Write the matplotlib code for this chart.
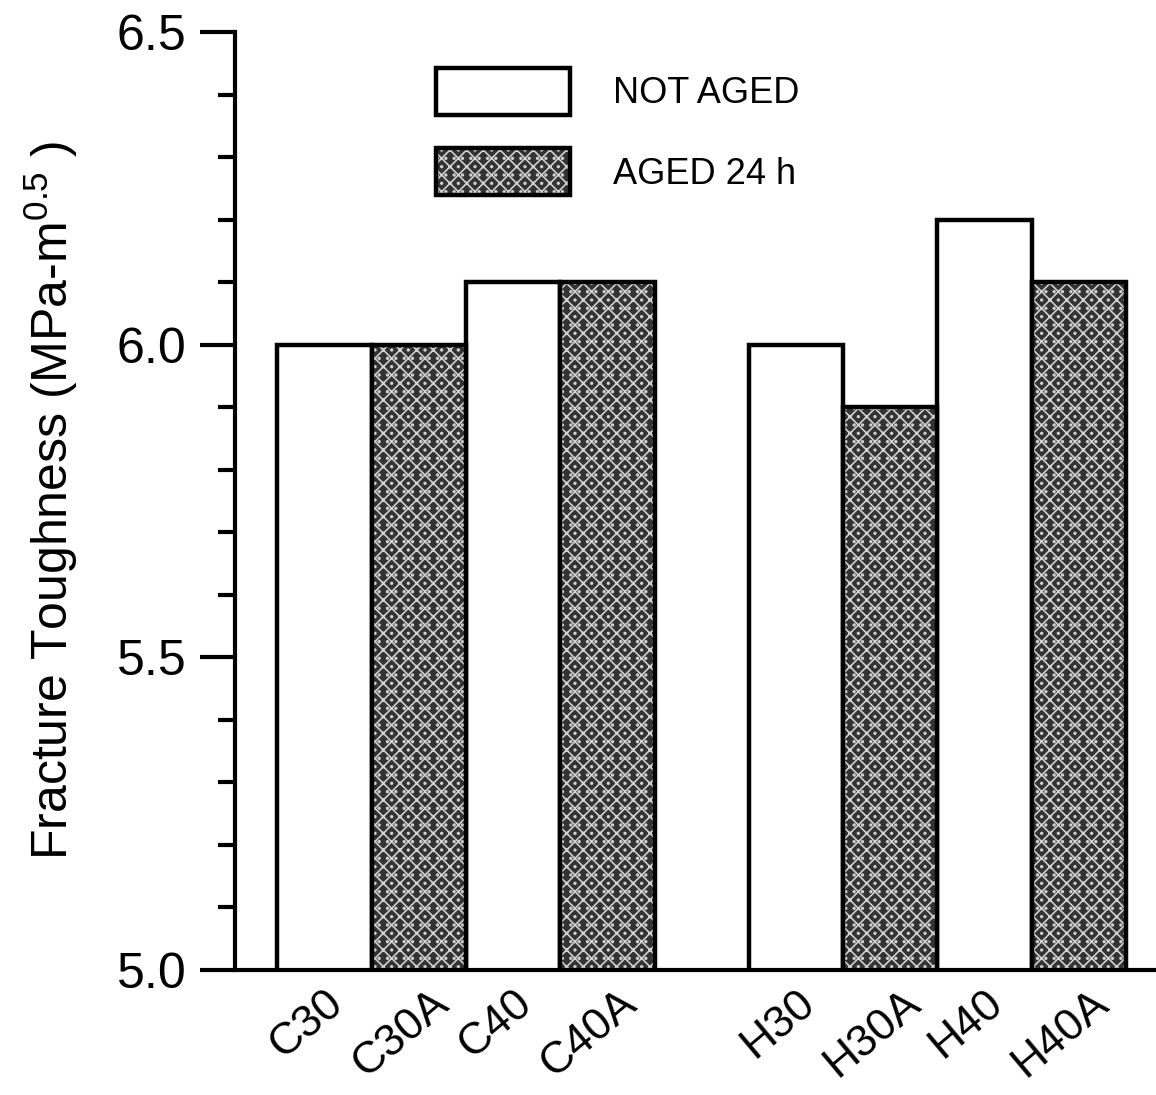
import matplotlib
matplotlib.use("Agg")
import matplotlib.pyplot as plt
from matplotlib.ticker import MultipleLocator
from matplotlib.transforms import ScaledTranslation

plt.rcParams["font.family"] = ["Liberation Sans", "DejaVu Sans"]
plt.rcParams["mathtext.fontset"] = "custom"
plt.rcParams["mathtext.rm"] = "Liberation Sans"
plt.rcParams["mathtext.it"] = "Liberation Sans:italic"
plt.rcParams["hatch.linewidth"] = 1.2

# sample names and slot positions (empty slot 4 separates C and H groups)
labels = ["C30", "C30A", "C40", "C40A", "H30", "H30A", "H40", "H40A"]
positions = [0, 1, 2, 3, 5, 6, 7, 8]

not_aged_pos = [0, 2, 5, 7]
not_aged = [6.0, 6.1, 6.0, 6.2]

aged_pos = [1, 3, 6, 8]
aged = [6.0, 6.1, 5.9, 6.1]

LW = 3.0
BAR_LW = 3.2

fig = plt.figure(figsize=(11.56, 10.95), dpi=100)
ax = fig.add_axes([0.2033, 0.1142, 0.7967, 0.8566])

white = ax.bar(not_aged_pos, not_aged, width=1.0, facecolor="white",
               edgecolor="black", linewidth=BAR_LW, zorder=2)

# stippled grey: dark fill with white hatch, then a black outline on top
gray_fill = ax.bar(aged_pos, aged, width=1.0, facecolor="#333333",
                   edgecolor="#d0d0d0", hatch="xx..", linewidth=0, zorder=2)
gray_edge = ax.bar(aged_pos, aged, width=1.0, facecolor="none",
                   edgecolor="black", linewidth=BAR_LW, zorder=3)

ax.set_xlim(-0.95, 8.82)
ax.set_ylim(5.0, 6.5)

ax.yaxis.set_major_locator(MultipleLocator(0.5))
ax.yaxis.set_minor_locator(MultipleLocator(0.1))
ax.yaxis.set_major_formatter(lambda v, p: f"{v:.1f}")
ax.tick_params(axis="y", which="major", direction="out", length=25,
               width=LW, labelsize=36, pad=10)
ax.tick_params(axis="y", which="minor", direction="out", length=12, width=LW)

ax.set_xticks(positions)
ax.set_xticklabels(labels, rotation=40, ha="center", va="top")
ax.tick_params(axis="x", length=0, labelsize=32, pad=9)
shift = ScaledTranslation(-18 / 100, 0, fig.dpi_scale_trans)
for lab in ax.get_xticklabels():
    lab.set_transform(lab.get_transform() + shift)

for side in ["top", "right"]:
    ax.spines[side].set_visible(False)
for side in ["left", "bottom"]:
    ax.spines[side].set_linewidth(LW)

ax.set_ylabel("Fracture Toughness (MPa-m$^{0.5}$ )", fontsize=36)
ax.yaxis.set_label_coords(-0.168, 0.5)

ax.legend([white[0], (gray_fill[0], gray_edge[0])], ["NOT AGED", "AGED 24 h"],
          loc="upper left", bbox_to_anchor=(436 / 1156, 1 - 68 / 1095),
          bbox_transform=fig.transFigure, frameon=False, fontsize=26,
          handlelength=3.7, handleheight=1.63, handletextpad=1.2,
          labelspacing=0.92, borderpad=0, borderaxespad=0)

fig.savefig("out.png", dpi=100)
